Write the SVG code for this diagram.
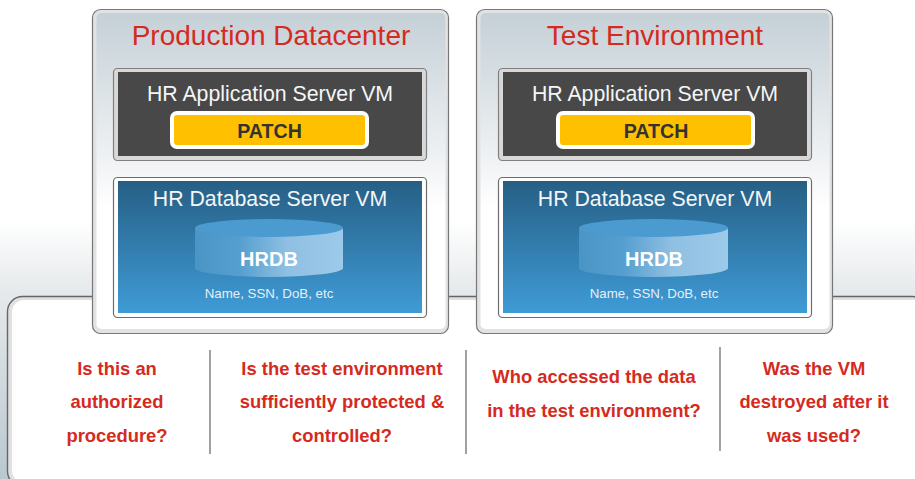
<svg xmlns="http://www.w3.org/2000/svg" width="915" height="479" viewBox="0 0 915 479">
<defs>
<linearGradient id="bg" x1="0" y1="0" x2="0" y2="1"><stop offset="0" stop-color="#ffffff"/><stop offset="0.46" stop-color="#ffffff"/><stop offset="0.62" stop-color="#e4e8ea"/><stop offset="1" stop-color="#b9c7cf"/></linearGradient>
<linearGradient id="panel" x1="0" y1="0" x2="0" y2="1"><stop offset="0" stop-color="#c5d0d7"/><stop offset="0.45" stop-color="#eef1f3"/><stop offset="0.62" stop-color="#ffffff"/><stop offset="1" stop-color="#ffffff"/></linearGradient>
<linearGradient id="blue" x1="0" y1="0" x2="0" y2="1"><stop offset="0" stop-color="#265f85"/><stop offset="1" stop-color="#3f9bd6"/></linearGradient>
<linearGradient id="cyl" x1="0" y1="0" x2="1" y2="0"><stop offset="0" stop-color="#4b95c6"/><stop offset="0.3" stop-color="#559fd0"/><stop offset="0.62" stop-color="#8fbfe2"/><stop offset="1" stop-color="#9ccaea"/></linearGradient>
<g id="card">
<rect x="0.5" y="0.5" width="356" height="324" rx="8" fill="#e2e2e2" stroke="#777" stroke-width="1.2"/>
<rect x="4.500" y="4" width="349" height="316" rx="5" fill="url(#panel)"/>
</g>
</defs>
<style>
text{font-family:"Liberation Sans",Arial,sans-serif;text-anchor:middle}
.t{font-size:28px;fill:#d52b1e}
.h{font-size:21.300px;fill:#f4f6f8}
.p{font-size:19.600px;font-weight:700;fill:#333}
.d{font-size:20px;font-weight:700;fill:#fff}
.s{font-size:13.300px;fill:#e6f0f8}
.q{font-size:18.400px;font-weight:700;fill:#d52b1e}
.ab{fill:#d8d8d8;stroke:#808080;stroke-width:1.2}
.db{fill:#fff;stroke:#6d6d6d;stroke-width:1.2}
.div{stroke:#7a7a7a;stroke-width:1.4}
</style>
<rect width="915" height="479" fill="url(#bg)"/>
<g id="question-panel">
<rect x="7.500" y="296.500" width="920" height="190" rx="15" fill="#e0e0e0" stroke="#666" stroke-width="1.4"/>
<path d="M12 471V312a12 12 0 0 1 12-12H915V483H24a12 12 0 0 1-12-12Z" fill="#fff"/>
</g>
<g id="production">
<use href="#card" x="92" y="9"/>
<text class="t" x="271" y="45">Production Datacenter</text>
<g id="prod-app"><rect class="ab" x="113.500" y="68.500" width="313" height="92" rx="4"/><rect x="118" y="72" width="304" height="84" fill="#484848"/>
<text class="h" x="270" y="101">HR Application Server VM</text>
<rect x="170" y="111" width="199" height="38" rx="7" fill="#fff"/><rect x="174" y="115" width="191" height="30" rx="3" fill="#ffc000"/>
<text class="p" x="269.500" y="138">PATCH</text></g>
<g id="prod-db"><rect class="db" x="113.500" y="177.500" width="313" height="140" rx="4"/><rect x="118" y="181" width="304" height="132" fill="url(#blue)"/>
<text class="h" x="270" y="206">HR Database Server VM</text>
<path d="M195 228V268A74 9 0 0 0 343 268V228Z" fill="url(#cyl)"/><ellipse cx="269" cy="228" rx="74" ry="9" fill="#4b9ad0"/>
<text class="d" x="269" y="266">HRDB</text>
<text class="s" x="269" y="298">Name, SSN, DoB, etc</text></g>
</g>
<g id="test">
<use href="#card" x="476" y="9"/>
<text class="t" x="655" y="45">Test Environment</text>
<g id="test-app"><rect class="ab" x="498.500" y="68.500" width="313" height="92" rx="4"/><rect x="503" y="72" width="304" height="84" fill="#484848"/>
<text class="h" x="655" y="101">HR Application Server VM</text>
<rect x="556" y="111" width="199" height="38" rx="7" fill="#fff"/><rect x="560" y="115" width="191" height="30" rx="3" fill="#ffc000"/>
<text class="p" x="656" y="138">PATCH</text></g>
<g id="test-db"><rect class="db" x="498.500" y="177.500" width="313" height="140" rx="4"/><rect x="503" y="181" width="304" height="132" fill="url(#blue)"/>
<text class="h" x="655" y="206">HR Database Server VM</text>
<path d="M579 228V268A74.500 9 0 0 0 728 268V228Z" fill="url(#cyl)"/><ellipse cx="653.500" cy="228" rx="74.500" ry="9" fill="#4b9ad0"/>
<text class="d" x="654" y="266">HRDB</text>
<text class="s" x="654" y="298">Name, SSN, DoB, etc</text></g>
</g>
<g id="dividers"><line class="div" x1="210" y1="350" x2="210" y2="454"/><line class="div" x1="466" y1="350" x2="466" y2="454"/><line class="div" x1="720" y1="347" x2="720" y2="451"/></g>
<g id="questions">
<text class="q" x="117" y="375">Is this an</text><text class="q" x="117" y="408">authorized</text><text class="q" x="117" y="442">procedure?</text>
<text class="q" x="342" y="375">Is the test environment</text><text class="q" x="342" y="408">sufficiently protected &amp;</text><text class="q" x="342" y="442">controlled?</text>
<text class="q" x="594" y="383">Who accessed the data</text><text class="q" x="594" y="417">in the test environment?</text>
<text class="q" x="814" y="375">Was the VM</text><text class="q" x="814" y="408">destroyed after it</text><text class="q" x="814" y="442">was used?</text>
</g>
</svg>
